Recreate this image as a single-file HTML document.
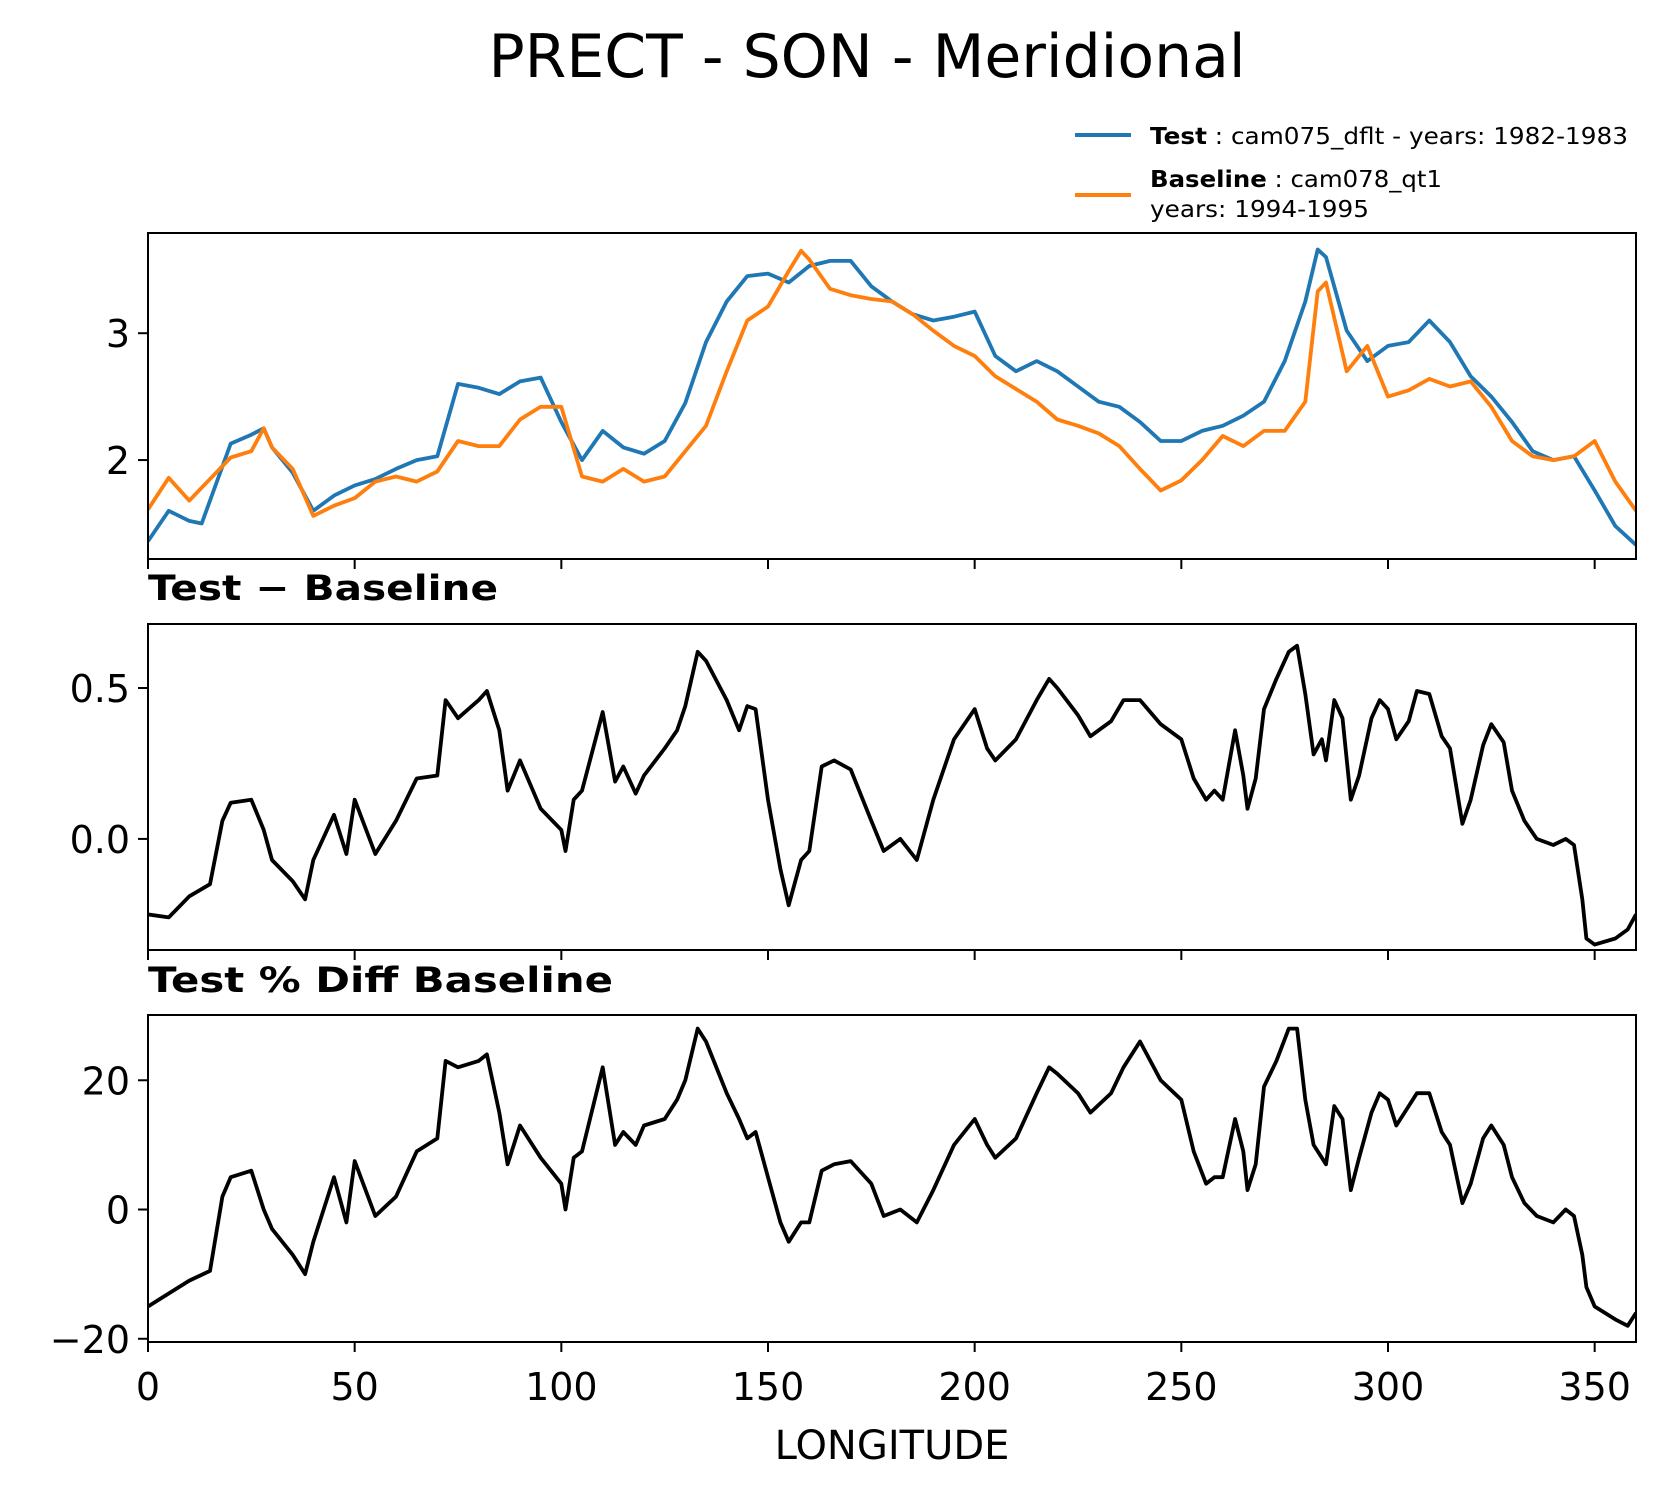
<!DOCTYPE html>
<html><head><meta charset="utf-8"><style>
html,body{margin:0;padding:0;background:#fff}
svg{display:block;font-family:"DejaVu Sans","Liberation Sans",sans-serif}
</style></head><body>
<svg id="fig" width="1668" height="1496" viewBox="0 0 1668 1496" xmlns="http://www.w3.org/2000/svg">
<rect width="1668" height="1496" fill="#fff"/>
<text x="867" y="77" font-size="60" text-anchor="middle">PRECT - SON - Meridional</text>
<g>
<line x1="1075" y1="135" x2="1131" y2="135" stroke="#1f77b4" stroke-width="4"/>
<text x="1150" y="144" font-size="23" textLength="478" lengthAdjust="spacingAndGlyphs"><tspan font-weight="bold">Test</tspan> : cam075_dflt - years: 1982-1983</text>
<line x1="1075" y1="195" x2="1131" y2="195" stroke="#ff7f0e" stroke-width="4"/>
<text x="1150" y="187" font-size="23" textLength="292" lengthAdjust="spacingAndGlyphs"><tspan font-weight="bold">Baseline</tspan> : cam078_qt1</text>
<text x="1150" y="217" font-size="23" textLength="219" lengthAdjust="spacingAndGlyphs">years: 1994-1995</text>
</g>
<text x="148" y="600" font-size="35" font-weight="bold" textLength="350" lengthAdjust="spacingAndGlyphs">Test − Baseline</text>
<text x="148" y="992" font-size="35" font-weight="bold" textLength="465" lengthAdjust="spacingAndGlyphs">Test % Diff Baseline</text>
<text x="892" y="1459" font-size="40" text-anchor="middle">LONGITUDE</text>
</svg>
<script>
const testLon=[0,5,10,13,15,20,25,28,30,35,40,45,50,55,60,65,70,75,80,85,90,95,100,105,110,115,120,125,130,135,140,145,150,155,160,165,170,175,180,185,190,195,200,205,210,215,220,225,230,235,240,245,250,255,260,265,270,275,280,283,285,290,295,300,305,310,315,320,325,330,335,340,345,350,355,360];
const testVal=[1.36,1.6,1.52,1.5,1.68,2.13,2.2,2.25,2.1,1.9,1.6,1.72,1.8,1.85,1.93,2.0,2.03,2.6,2.57,2.52,2.62,2.65,2.3,2.0,2.23,2.1,2.05,2.15,2.45,2.93,3.25,3.45,3.47,3.4,3.53,3.57,3.57,3.37,3.25,3.15,3.1,3.13,3.17,2.82,2.7,2.78,2.7,2.58,2.46,2.42,2.3,2.15,2.15,2.23,2.27,2.35,2.46,2.78,3.25,3.66,3.6,3.02,2.78,2.9,2.93,3.1,2.93,2.66,2.5,2.3,2.07,2.0,2.03,1.76,1.48,1.33];
const baseLon=[0,5,10,15,20,25,28,30,35,40,45,50,55,60,65,70,75,80,85,90,95,100,105,110,115,120,125,130,135,140,145,150,155,158,160,165,170,175,180,185,190,195,200,205,210,215,220,225,230,235,240,245,250,255,260,265,270,275,280,283,285,290,295,300,305,310,315,320,325,330,335,340,345,350,355,360];
const baseVal=[1.61,1.86,1.68,1.85,2.02,2.07,2.25,2.1,1.93,1.56,1.64,1.7,1.83,1.87,1.83,1.91,2.15,2.11,2.11,2.32,2.42,2.42,1.87,1.83,1.93,1.83,1.87,2.07,2.27,2.7,3.1,3.21,3.49,3.65,3.58,3.35,3.3,3.27,3.25,3.15,3.02,2.9,2.82,2.66,2.56,2.46,2.32,2.27,2.21,2.11,1.93,1.76,1.84,2.0,2.19,2.11,2.23,2.23,2.46,3.33,3.4,2.7,2.9,2.5,2.55,2.64,2.58,2.62,2.42,2.15,2.03,2.0,2.03,2.15,1.83,1.6];
const diffLon=[0,5,10,15,18,20,25,28,30,35,38,40,45,48,50,55,60,65,70,72,75,80,82,85,87,90,95,100,101,103,105,110,113,115,118,120,125,128,130,133,135,140,143,145,147,150,153,155,158,160,163,166,170,175,178,182,186,190,195,200,203,205,210,215,218,220,225,228,233,236,240,245,250,253,256,258,260,263,265,266,268,270,273,276,278,280,282,284,285,287,289,291,293,296,298,300,302,305,307,310,313,315,318,320,323,325,328,330,333,336,340,343,345,347,348,350,355,358,360];
const diffVal=[-0.25,-0.26,-0.19,-0.15,0.06,0.12,0.13,0.03,-0.07,-0.14,-0.2,-0.07,0.08,-0.05,0.13,-0.05,0.06,0.2,0.21,0.46,0.4,0.46,0.49,0.36,0.16,0.26,0.1,0.03,-0.04,0.13,0.16,0.42,0.19,0.24,0.15,0.21,0.3,0.36,0.44,0.62,0.59,0.46,0.36,0.44,0.43,0.13,-0.1,-0.22,-0.07,-0.04,0.24,0.26,0.23,0.06,-0.04,0,-0.07,0.13,0.33,0.43,0.3,0.26,0.33,0.46,0.53,0.5,0.41,0.34,0.39,0.46,0.46,0.38,0.33,0.2,0.13,0.16,0.13,0.36,0.21,0.1,0.2,0.43,0.53,0.62,0.64,0.48,0.28,0.33,0.26,0.46,0.4,0.13,0.21,0.4,0.46,0.43,0.33,0.39,0.49,0.48,0.34,0.3,0.05,0.13,0.31,0.38,0.32,0.16,0.06,0,-0.02,0,-0.02,-0.2,-0.33,-0.35,-0.33,-0.3,-0.25];
const pctVal=[-15,-13,-11,-9.5,2,5,6,0,-3,-7,-10,-5,5,-2,7.5,-1,2,9,11,23,22,23,24,15,7,13,8,4,0,8,9,22,10,12,10,13,14,17,20,28,26,18,14,11,12,5,-2,-5,-2,-2,6,7,7.5,4,-1,0,-2,3,10,14,10,8,11,18,22,21,18,15,18,22,26,20,17,9,4,5,5,14,9,3,7,19,23,28,28,17,10,8,7,16,14,3,8,15,18,17,13,16,18,18,12,10,1,4,11,13,10,5,1,-1,-2,0,-1,-7,-12,-15,-17,-18,-16];
const xTicks=[0,50,100,150,200,250,300,350];
const p1Ticks=[2,3], p1Labels=["2","3"];
const p2Ticks=[0,0.5], p2Labels=["0.0","0.5"];
const p3Ticks=[-20,0,20], p3Labels=["−20","0","20"];

const NS="http://www.w3.org/2000/svg";
const svg=document.getElementById('fig');
const L=148,R=1636;
const X=d=>L+(d/360)*(R-L);
function mk(tag,attrs,parent){const e=document.createElementNS(NS,tag);for(const k in attrs)e.setAttribute(k,attrs[k]);(parent||svg).appendChild(e);return e;}
function panel(name,top,bot,ymin,ymax,yt,yl,showX){
  const g=mk('g',{});
  
  
  const Y=v=>bot-(v-ymin)/(ymax-ymin)*(bot-top);
  xTicks.forEach(t=>{
    const tk=mk('line',{x1:X(t),x2:X(t),y1:bot,y2:bot+10,stroke:'#000','stroke-width':2},g);
    
    
    if(showX){
      const tx=mk('text',{x:X(t),y:1400,'font-size':38,'text-anchor':'middle'},g);
      
      
      tx.textContent=t;
    }
  });
  yt.forEach((t,i)=>{
    const tk=mk('line',{x1:L-10,x2:L,y1:Y(t),y2:Y(t),stroke:'#000','stroke-width':2},g);
    
    
    const tx=mk('text',{x:L-18,y:Y(t)+14,'font-size':38,'text-anchor':'end'},g);
    
    
    tx.textContent=yl[i];
  });
  const cp='clip-'+name;
  const c=mk('clipPath',{id:cp},g);mk('rect',{x:L,y:top,width:R-L,height:bot-top},c);
  return {g,Y,top,bot,cp};
}
function series(p,name,lon,val,color){
  const d=lon.map((x,i)=>(i?'L':'M')+X(x).toFixed(1)+','+p.Y(val[i]).toFixed(1)).join('');
  const e=mk('path',{d,fill:'none',stroke:color,'stroke-width':3.8,'stroke-linejoin':'round','clip-path':'url(#'+p.cp+')'},p.g);
  
  
}
function frame(p){
  const f=mk('rect',{x:L,y:p.top,width:R-L,height:p.bot-p.top,fill:'none',stroke:'#000','stroke-width':2},p.g);
  
  
}
const p1=panel('mean-panel',233,559,1.22,3.79,p1Ticks,p1Labels,false);
series(p1,'test-line',testLon,testVal,'#1f77b4');
series(p1,'baseline-line',baseLon,baseVal,'#ff7f0e');
frame(p1);
const p2=panel('diff-panel',624,950,-0.368,0.712,p2Ticks,p2Labels,false);
series(p2,'diff-line',diffLon,diffVal,'#000');
frame(p2);
const p3=panel('pct-diff-panel',1015,1342,-20.5,30.1,p3Ticks,p3Labels,true);
series(p3,'pct-diff-line',diffLon,pctVal,'#000');
frame(p3);
</script>
</body></html>
